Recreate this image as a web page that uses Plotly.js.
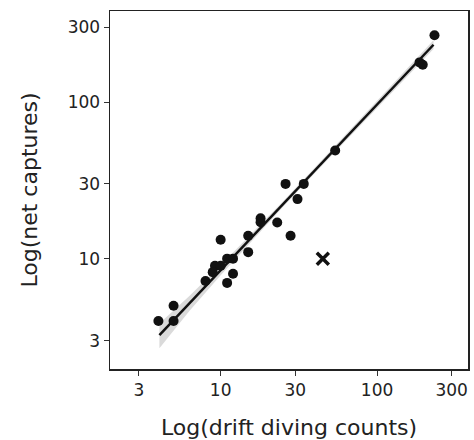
<!DOCTYPE html>
<html>
<head>
<meta charset="utf-8">
<script src="https://cdn.plot.ly/plotly-3.0.1.min.js"></script>
<style>html,body{margin:0;padding:0;background:#fff;}#chart{width:474px;height:440px;}</style>
</head>
<body>
<div id="chart"></div>
<script>
// Observations (drift diving counts vs net captures)
const driftCounts = [233, 187, 196, 54, 26, 34, 31, 18, 18, 23, 28, 15, 15, 10, 11, 12, 9.2, 10, 8.9, 12, 11, 8, 5, 4, 5];
const netCaptures = [267, 179, 173, 49, 30, 30, 24, 18.1, 17.1, 17, 14, 14, 11, 13.2, 10, 10, 9, 9, 8.2, 8, 7, 7.2, 5, 4, 4];
// Outlier (excluded point)
const outlierX = [45];
const outlierY = [10];
// Fitted regression line
const fitX = [4.06, 229.6];
const fitY = [3.25, 232];
// Confidence band
const bandX = [4.06, 6.31, 10, 15.85, 25.1, 39.8, 63.1, 100, 158.5, 229.6];
const bandUpper = [3.86, 5.78, 9.08, 14.45, 23.28, 37.93, 61.94, 101.4, 166.3, 247.7];
const bandLower = [2.68, 4.63, 7.83, 13.06, 21.43, 34.91, 56.49, 91.6, 148.3, 217.8];
// Tick labels
const tickVals = [3, 10, 30, 100, 300];
const tickText = ['3', '10', '30', '100', '300'];

const traces = [
  {x: bandX, y: bandLower, mode: 'lines', line: {width: 0, color: 'rgba(0,0,0,0)'}, hoverinfo: 'skip', showlegend: false},
  {x: bandX, y: bandUpper, mode: 'lines', fill: 'tonexty', fillcolor: 'rgb(218,218,218)', line: {width: 0, color: 'rgba(0,0,0,0)'}, hoverinfo: 'skip', showlegend: false},
  {x: fitX, y: fitY, mode: 'lines', line: {color: '#111', width: 2.5}, showlegend: false},
  {x: driftCounts, y: netCaptures, mode: 'markers', marker: {color: '#111', size: 10}, showlegend: false},
  {x: outlierX, y: outlierY, mode: 'markers', marker: {symbol: 'x-thin', size: 12, color: '#111', line: {color: '#111', width: 3.5}}, showlegend: false}
];

const axisCommon = {
  type: 'log',
  range: [0.2925, 2.5816],
  tickvals: tickVals,
  ticktext: tickText,
  ticks: 'outside',
  ticklen: 5,
  tickwidth: 1,
  tickcolor: '#333',
  showline: true,
  linecolor: '#222',
  linewidth: 1.5,
  mirror: true,
  showgrid: false,
  zeroline: false,
  tickfont: {family: 'DejaVu Sans', size: 17, color: '#222'}
};

const layout = {
  width: 474,
  height: 440,
  margin: {l: 110, r: 6, t: 11, b: 71},
  paper_bgcolor: '#fff',
  plot_bgcolor: '#fff',
  xaxis: Object.assign({}, axisCommon, {
    title: {text: 'Log(drift diving counts)', font: {family: 'DejaVu Sans', size: 22, color: '#222'}, standoff: 20}
  }),
  yaxis: Object.assign({}, axisCommon, {
    range: [0.2955, 2.581],
    title: {text: 'Log(net captures)', font: {family: 'DejaVu Sans', size: 22, color: '#222'}, standoff: 24}
  }),
  showlegend: false
};

Plotly.newPlot('chart', traces, layout, {displayModeBar: false, staticPlot: true});
</script>
</body>
</html>
